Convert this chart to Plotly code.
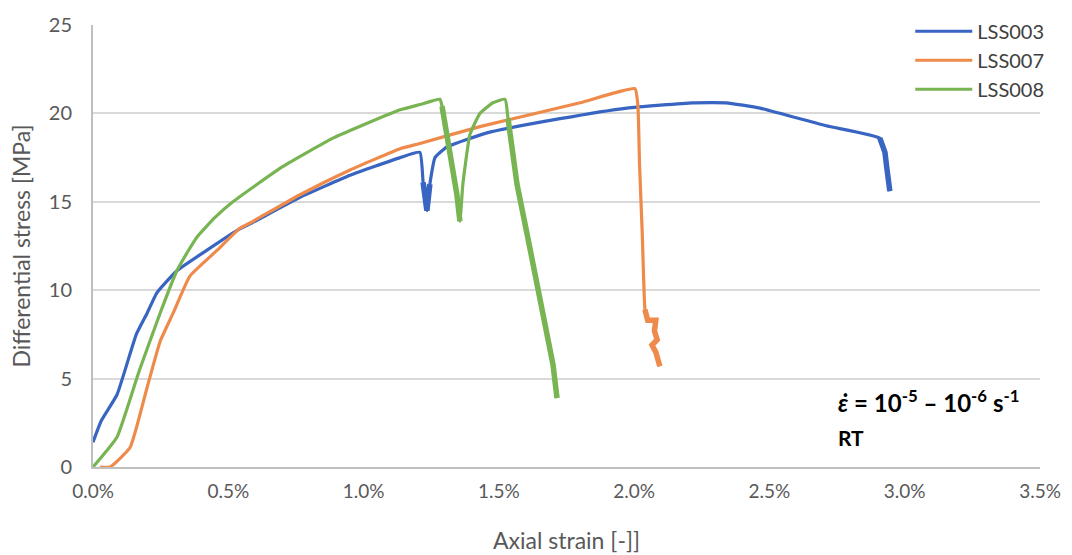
import plotly.graph_objects as go

# Axial strain (%) and differential stress (MPa) per specimen
lss003_strain = [0.000, 0.030, 0.089, 0.160, 0.200, 0.236, 0.310, 0.420, 0.540, 0.580,
                 0.765, 0.950, 1.135, 1.208, 1.220, 1.234, 1.245, 1.264, 1.308, 1.456,
                 1.726, 1.973, 2.217, 2.340, 2.465, 2.710, 2.908, 2.927, 2.934, 2.945]
lss003_stress = [1.4, 2.6, 4.1, 7.5, 8.7, 9.85, 11.1, 12.25, 13.45, 13.75,
                 15.25, 16.5, 17.5, 17.8, 16.1, 14.5, 16.0, 17.5, 18.1, 18.9,
                 19.7, 20.3, 20.6, 20.6, 20.3, 19.3, 18.6, 17.8, 16.9, 15.6]

lss007_strain = [0.026, 0.063, 0.137, 0.200, 0.248, 0.296, 0.358, 0.458, 0.543, 0.580,
                 0.765, 0.950, 1.135, 1.208, 1.430, 1.800, 2.003, 2.014, 2.020, 2.030,
                 2.040, 2.050, 2.080, 2.075, 2.085, 2.066, 2.080, 2.095]
lss007_stress = [0.0, 0.0, 1.1, 4.5, 7.1, 8.7, 10.8, 12.25, 13.5, 13.8,
                 15.4, 16.8, 18.0, 18.3, 19.25, 20.6, 21.4, 20.4, 17.1, 13.2,
                 8.9, 8.3, 8.3, 7.7, 7.2, 6.9, 6.5, 5.7]

lss008_strain = [0.000, 0.089, 0.170, 0.248, 0.310, 0.351, 0.384, 0.450, 0.517, 0.702,
                 0.887, 1.135, 1.208, 1.282, 1.290, 1.320, 1.345, 1.356, 1.367, 1.393,
                 1.430, 1.478, 1.523, 1.534, 1.567, 1.604, 1.652, 1.700, 1.715]
lss008_stress = [0.0, 1.7, 5.4, 8.7, 11.1, 12.2, 13.0, 14.1, 15.0, 17.0,
                 18.6, 20.2, 20.5, 20.8, 20.4, 17.8, 15.4, 13.9, 16.0, 18.8,
                 20.0, 20.6, 20.8, 19.7, 16.0, 13.2, 9.5, 5.8, 3.9]

series_names = ["LSS003", "LSS007", "LSS008"]
series_colors = ["#3864c2", "#ee8a4a", "#78b452"]

# strain windows where the recorded signal is noisy (post-failure scatter)
noisy_windows = {
    "LSS003": [(1.22, 1.245), (2.908, 2.945)],
    "LSS007": [(2.040, 2.095)],
    "LSS008": [(1.290, 1.356), (1.534, 1.715)],
}

x_ticks = [0.0, 0.5, 1.0, 1.5, 2.0, 2.5, 3.0, 3.5]
x_tick_text = [f"{v:.1f}%" for v in x_ticks]
y_ticks = [0, 5, 10, 15, 20, 25]

FONT = "Lato, 'Open Sans', sans-serif"
GREY = "#595959"

fig = go.Figure()
data = [lss003_strain, lss007_strain, lss008_strain]
vals = [lss003_stress, lss007_stress, lss008_stress]
for name, color, xs, ys in zip(series_names, series_colors, data, vals):
    fig.add_trace(go.Scatter(x=xs, y=ys, mode="lines", name=name,
                             line=dict(color=color, width=3.2, shape="spline", smoothing=0.4)))

# thicker strokes over the noisy parts of each record
for name, color, xs, ys in zip(series_names, series_colors, data, vals):
    for lo, hi in noisy_windows[name]:
        idx = [i for i, v in enumerate(xs) if lo <= v <= hi]
        i0, i1 = min(idx), max(idx)
        fig.add_trace(go.Scatter(x=xs[i0:i1 + 1], y=ys[i0:i1 + 1], mode="lines",
                                 showlegend=False, hoverinfo="skip",
                                 line=dict(color=color, width=5.5)))

fig.add_annotation(xref="paper", yref="paper", x=0.785, y=0.149, xanchor="left", yanchor="middle",
                   text="<b><i>ε̇</i> = 10<sup>-5</sup> – 10<sup>-6</sup> s<sup>-1</sup></b>",
                   showarrow=False, font=dict(family=FONT, size=24, color="#000000"))
fig.add_annotation(xref="paper", yref="paper", x=0.785, y=0.067, xanchor="left", yanchor="middle",
                   text="<b>RT</b>", showarrow=False,
                   font=dict(family=FONT, size=21, color="#000000"))

fig.update_layout(
    width=1072, height=555,
    margin=dict(l=93, r=32, t=18, b=88),
    paper_bgcolor="white", plot_bgcolor="white",
    font=dict(family=FONT, size=19, color=GREY),
    showlegend=True,
    legend=dict(x=0.863, xanchor="left", y=1.03, yanchor="top",
                bgcolor="rgba(0,0,0,0)", itemwidth=57,
                font=dict(family=FONT, size=20, color="#404040"),
                tracegroupgap=0),
    xaxis=dict(range=[0, 3.5], tickvals=x_ticks, ticktext=x_tick_text,
               showgrid=False, zeroline=False, showline=True, linecolor="#bfbfbf",
               linewidth=2, ticks="outside", ticklen=6, tickcolor="rgba(0,0,0,0)",
               tickfont=dict(size=19, color=GREY), automargin=False,
               title=dict(text="Axial strain [-]]", font=dict(size=23, color=GREY), standoff=32)),
    yaxis=dict(range=[0, 25], tickvals=y_ticks,
               showgrid=True, gridcolor="#d9d9d9", gridwidth=2, zeroline=False,
               showline=True, linecolor="#bfbfbf", linewidth=2,
               ticks="outside", ticklen=15, tickcolor="rgba(0,0,0,0)",
               tickfont=dict(size=20, color=GREY), automargin=False,
               title=dict(text="Differential stress [MPa]", font=dict(size=23, color=GREY), standoff=12)),
)

fig.write_html("out.html")
